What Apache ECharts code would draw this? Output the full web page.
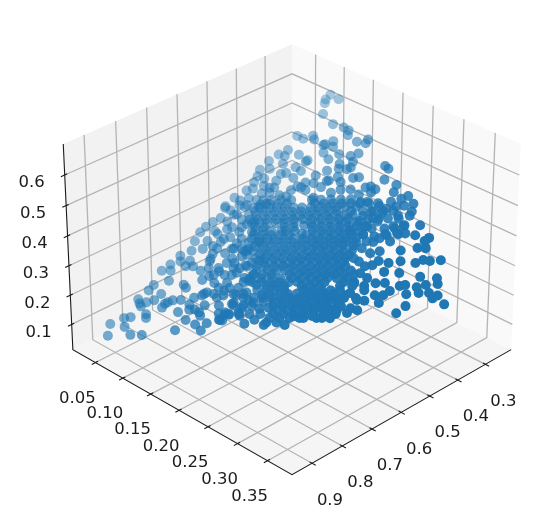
<!DOCTYPE html>
<html><head><meta charset="utf-8">
<style>html,body{margin:0;padding:0;background:#fff}#c{width:542px;height:523px}</style>
<script src="https://cdn.jsdelivr.net/npm/echarts@6/dist/echarts.min.js"></script>
</head><body><div id="c"></div>
<script>
// Tick labels of the three axes
const xTicks = ['0.3','0.4','0.5','0.6','0.7','0.8','0.9'];
const yTicks = ['0.05','0.10','0.15','0.20','0.25','0.30','0.35'];
const zTicks = ['0.1','0.2','0.3','0.4','0.5','0.6'];
const xLimits = [0.205, 0.965], yLimits = [0.008, 0.39], zLimits = [0.0125, 0.70];
// Samples, each as [y, x, z]
const upperCloud = [
[.117,.288,.658],[.130,.286,.653],[.115,.301,.646],[.117,.308,.638],[.124,.328,.617],[.143,.332,.602],[.158,.325,.601],[.166,.324,.598],[.169,.333,.589],[.130,.375,.571],
[.112,.394,.563],[.134,.379,.564],[.121,.391,.560],[.157,.359,.570],[.184,.332,.580],[.195,.316,.590],[.195,.324,.581],[.149,.377,.558],[.161,.368,.559],[.150,.373,.560],
[.155,.389,.543],[.195,.349,.559],[.188,.362,.550],[.174,.373,.548],[.113,.428,.532],[.106,.446,.519],[.114,.441,.519],[.129,.422,.528],[.100,.468,.502],[.143,.420,.521],
[.142,.424,.518],[.118,.455,.503],[.166,.394,.534],[.182,.388,.530],[.195,.368,.540],[.135,.445,.502],[.144,.445,.498],[.197,.380,.528],[.194,.387,.523],[.173,.413,.511],
[.234,.337,.547],[.240,.338,.544],[.107,.479,.487],[.097,.493,.481],[.099,.505,.467],[.124,.474,.483],[.141,.465,.481],[.109,.502,.466],[.100,.519,.454],[.122,.509,.451],
[.104,.531,.442],[.127,.503,.454],[.118,.528,.437],[.090,.567,.415],[.087,.592,.395],[.099,.565,.413],[.107,.551,.422],[.131,.538,.420],[.148,.503,.442],[.157,.470,.467],
[.158,.457,.478],[.179,.446,.477],[.179,.472,.454],[.183,.427,.494],[.185,.397,.521],[.190,.410,.505],[.214,.386,.514],[.208,.394,.510],[.197,.415,.496],[.181,.430,.491],
[.168,.449,.481],[.152,.473,.467],[.164,.469,.464],[.195,.444,.472]];
const rightCloud = [
[.244,.360,.522],[.261,.354,.517],[.234,.386,.502],[.229,.394,.498],[.241,.385,.499],[.264,.369,.503],[.282,.357,.502],[.239,.396,.492],[.294,.364,.491],[.277,.370,.494],
[.268,.387,.484],[.285,.377,.482],[.258,.407,.470],[.242,.415,.472],[.235,.423,.469],[.248,.442,.444],[.254,.426,.456],[.299,.387,.467],[.286,.400,.461],[.277,.416,.451],
[.268,.433,.441],[.298,.378,.476],[.292,.424,.436],[.300,.407,.446],[.281,.436,.431],[.317,.389,.454],[.319,.410,.433],[.256,.471,.414],[.246,.478,.411],[.276,.460,.412],
[.336,.398,.435],[.334,.409,.428],[.271,.477,.399],[.297,.450,.411],[.260,.499,.385],[.331,.427,.411],[.340,.418,.415],[.315,.451,.399],[.293,.477,.388],[.365,.419,.400],
[.354,.433,.394],[.346,.439,.392],[.340,.453,.383],[.323,.468,.380],[.311,.484,.370],[.299,.493,.369],[.295,.506,.358],[.288,.517,.353],[.278,.517,.359],[.313,.503,.352],
[.330,.487,.357],[.276,.540,.338],[.355,.468,.360],[.374,.451,.366],[.379,.459,.356],[.367,.474,.348],[.359,.488,.340],[.345,.498,.338],[.340,.506,.334],[.322,.519,.332],
[.312,.530,.327],[.302,.548,.317],[.365,.494,.330],[.376,.482,.335],[.387,.476,.335],[.384,.487,.328],[.353,.511,.322],[.333,.525,.320],[.329,.539,.309],[.320,.549,.305],
[.292,.575,.297],[.288,.584,.290],[.313,.570,.290],[.304,.577,.287],[.330,.556,.293],[.376,.427,.269],[.361,.530,.301],[.356,.551,.283],[.304,.598,.270],[.303,.608,.259],
[.285,.605,.272],[.280,.646,.238],[.268,.655,.237],[.260,.668,.229],[.249,.677,.228]];
const leftCloud = [
[.057,.934,.096],[.050,.913,.118],[.069,.900,.121],[.061,.887,.136],[.068,.878,.142],[.082,.905,.110],[.095,.891,.116],[.128,.842,.141],[.083,.854,.155],[.086,.860,.148],
[.062,.841,.178],[.067,.846,.171],[.071,.849,.167],[.074,.836,.177],[.081,.823,.185],[.067,.815,.200],[.068,.800,.212],[.084,.805,.200],[.082,.775,.228],[.066,.769,.243],
[.076,.758,.248],[.071,.749,.259],[.075,.723,.280],[.080,.732,.270],[.090,.733,.264],[.102,.763,.228],[.107,.765,.224],[.124,.770,.210],[.111,.790,.199],[.102,.800,.194],
[.098,.809,.188],[.096,.815,.184],[.096,.825,.176],[.117,.811,.175],[.124,.786,.195],[.128,.794,.186],[.134,.787,.189],[.142,.769,.202],[.158,.752,.209],[.141,.786,.186],
[.145,.790,.181],[.132,.814,.165],[.146,.809,.162],[.158,.793,.170],[.157,.811,.154],[.169,.773,.183],[.173,.770,.183],[.170,.754,.199],[.176,.753,.197],[.185,.738,.206],
[.189,.742,.201],[.200,.748,.189],[.208,.730,.201],[.222,.726,.196],[.171,.733,.218],[.185,.727,.216],[.187,.708,.233],[.205,.707,.223],[.215,.695,.230],[.110,.721,.263],
[.098,.724,.267],[.090,.719,.276],[.084,.702,.295],[.080,.683,.314],[.079,.663,.334],[.081,.647,.347],[.085,.631,.359],[.091,.616,.371],[.088,.595,.392],[.096,.592,.390],
[.102,.573,.404],[.095,.685,.304],[.094,.667,.321],[.095,.643,.343],[.110,.653,.326],[.104,.668,.314],[.111,.644,.333],[.113,.696,.285],[.112,.691,.290],[.111,.667,.312],
[.124,.665,.307],[.136,.664,.301],[.142,.668,.294],[.156,.658,.295],[.165,.679,.272],[.131,.699,.271],[.128,.711,.261],[.124,.719,.258],[.119,.733,.246],[.140,.698,.267],
[.148,.689,.270],[.152,.680,.277],[.144,.725,.241],[.152,.723,.238],[.156,.712,.246],[.166,.701,.251],[.172,.678,.269],[.172,.663,.281],[.183,.674,.265],[.197,.683,.249],
[.147,.629,.328],[.146,.635,.322],[.128,.649,.319],[.123,.615,.354],[.111,.616,.359],[.107,.625,.353],[.116,.592,.378],[.120,.576,.391],[.132,.581,.380],[.137,.599,.360],
[.153,.606,.346],[.125,.552,.410],[.109,.569,.403],[.172,.729,.221],[.170,.772,.183],[.171,.758,.195],[.245,.701,.207],[.234,.707,.207],[.223,.719,.202]];
const coreCloud = [
[.117,.544,.422],[.125,.536,.425],[.134,.526,.429],[.145,.514,.434],[.156,.502,.439],[.179,.477,.449],[.189,.466,.454],[.200,.454,.459],[.211,.442,.464],[.222,.430,.469],
[.120,.560,.406],[.128,.552,.409],[.138,.541,.414],[.146,.531,.418],[.155,.522,.422],[.165,.511,.426],[.174,.501,.430],[.184,.490,.435],[.193,.481,.439],[.202,.470,.443],[.212,.459,.448],[.222,.448,.452],[.233,.436,.457],
[.129,.568,.392],[.138,.559,.396],[.148,.548,.401],[.158,.537,.405],[.168,.526,.410],[.178,.516,.414],[.187,.506,.418],[.196,.495,.423],[.206,.484,.427],[.216,.474,.432],[.226,.463,.436],[.236,.452,.441],
[.130,.586,.376],[.139,.577,.380],[.147,.567,.384],[.157,.556,.388],[.167,.546,.393],[.177,.535,.397],[.196,.514,.406],[.206,.504,.410],[.216,.493,.415],[.226,.482,.419],[.235,.471,.424],[.246,.459,.429],
[.140,.594,.363],[.149,.584,.367],[.158,.574,.371],[.174,.556,.378],[.184,.546,.383],[.204,.524,.392],[.214,.513,.396],[.224,.502,.401],[.234,.492,.405],[.244,.481,.410],
[.142,.610,.347],[.151,.601,.351],[.159,.591,.355],[.168,.582,.359],[.178,.571,.363],[.188,.560,.368],[.198,.549,.372],[.208,.538,.377],[.218,.528,.381],[.228,.517,.386],[.238,.506,.390],[.247,.495,.395],
[.152,.618,.335],[.161,.608,.339],[.170,.598,.343],[.180,.588,.347],[.190,.577,.352],[.199,.566,.356],[.209,.555,.361],[.219,.544,.365],[.229,.534,.370],[.239,.523,.374],[.249,.512,.379],
[.149,.640,.315],[.164,.625,.322],[.172,.615,.326],[.182,.604,.330],[.192,.594,.335],[.202,.583,.339],[.212,.572,.344],[.222,.561,.348],[.232,.550,.353],[.242,.540,.357],[.252,.529,.362],[.262,.518,.366],
[.161,.646,.304],[.174,.632,.310],[.183,.622,.314],[.193,.612,.318],[.203,.601,.323],[.212,.590,.327],[.222,.579,.332],[.232,.568,.336],[.242,.558,.341],[.252,.547,.345],[.262,.536,.350],
[.172,.652,.292],[.184,.639,.297],[.194,.628,.301],[.204,.618,.306],[.214,.607,.310],[.224,.596,.315],[.234,.585,.319],[.244,.574,.324],[.254,.564,.328],[.264,.553,.333],
[.171,.673,.274],[.184,.658,.280],[.195,.646,.285],[.205,.636,.289],[.217,.622,.295],[.227,.612,.299],[.237,.601,.304],[.247,.590,.308],[.256,.579,.313],[.266,.568,.317],[.277,.556,.322],
[.195,.664,.268],[.205,.654,.273],[.215,.643,.277],[.234,.622,.286],[.244,.612,.290],[.254,.601,.295],[.276,.577,.305],[.289,.562,.311],
[.205,.673,.255],[.216,.661,.260],[.225,.650,.264],[.235,.639,.269],[.245,.628,.273],[.255,.618,.278],[.265,.607,.282],[.275,.596,.287],
[.204,.692,.238],[.215,.680,.243],[.225,.669,.247],[.235,.658,.252],[.245,.648,.256],[.255,.637,.261],[.265,.626,.265],[.274,.615,.270],
[.225,.687,.230],[.235,.676,.234],[.245,.666,.239],[.255,.655,.243],[.265,.644,.248],[.275,.633,.252],[.285,.622,.257],
[.223,.709,.212],[.234,.697,.217],[.245,.685,.222],[.256,.673,.227],[.274,.652,.235],[.289,.637,.242]];
const denseCloud = [
[.125,.546,.416],[.135,.535,.421],[.144,.524,.425],[.154,.513,.430],[.185,.480,.444],[.195,.469,.448],[.205,.458,.453],[.215,.447,.457],[.225,.436,.462],[.235,.426,.466],[.245,.415,.471],[.255,.404,.475],
[.125,.564,.399],[.136,.552,.404],[.146,.541,.408],[.156,.530,.413],[.166,.519,.417],[.176,.508,.422],[.186,.498,.426],[.196,.487,.431],[.206,.476,.435],[.215,.465,.440],[.244,.434,.453],[.255,.422,.458],[.266,.410,.463],[.277,.398,.468],
[.125,.583,.382],[.134,.572,.386],[.144,.561,.391],[.154,.550,.395],[.164,.540,.400],[.174,.529,.404],[.184,.518,.409],[.194,.507,.413],[.204,.496,.418],[.214,.486,.422],[.224,.475,.427],[.234,.464,.431],[.256,.440,.441],[.267,.428,.446],[.289,.404,.456],
[.137,.588,.371],[.147,.577,.375],[.170,.552,.386],[.180,.541,.390],[.200,.519,.399],[.210,.508,.404],[.220,.498,.408],[.230,.487,.413],[.240,.476,.417],[.249,.465,.422],[.258,.456,.426],[.289,.422,.440],[.300,.410,.445],
[.141,.602,.355],[.151,.591,.359],[.161,.580,.364],[.171,.570,.368],[.181,.559,.373],[.200,.537,.382],[.210,.526,.386],[.220,.516,.391],[.230,.505,.395],[.240,.494,.400],[.250,.483,.404],[.262,.470,.410],[.286,.444,.421],[.300,.428,.427],
[.142,.620,.338],[.151,.609,.343],[.161,.598,.347],[.171,.588,.352],[.181,.577,.356],[.191,.566,.361],[.201,.555,.365],[.211,.544,.370],[.221,.534,.374],[.231,.523,.379],[.241,.512,.383],[.250,.501,.388],[.260,.490,.392],[.279,.470,.401],
[.143,.638,.321],[.153,.627,.325],[.163,.616,.330],[.173,.606,.334],[.183,.595,.339],[.192,.584,.343],[.202,.573,.348],[.212,.562,.352],[.222,.552,.357],[.232,.541,.361],[.242,.530,.366],[.252,.519,.370],[.262,.508,.375],
[.162,.636,.313],[.172,.625,.317],[.182,.614,.322],[.192,.603,.326],[.202,.592,.331],[.212,.582,.335],[.222,.571,.340],[.232,.560,.344],[.241,.549,.349],[.251,.538,.353],[.261,.528,.358],[.270,.518,.362],
[.159,.657,.295],[.169,.646,.299],[.179,.636,.304],[.189,.625,.308],[.199,.614,.313],[.209,.603,.317],[.219,.592,.322],[.229,.582,.326],[.239,.571,.331],[.248,.560,.335],[.258,.549,.340],[.267,.540,.344],
[.172,.662,.283],[.182,.651,.287],[.192,.640,.292],[.212,.619,.301],[.222,.608,.305],[.231,.597,.310],[.241,.586,.314],[.251,.576,.319],[.261,.565,.323],[.271,.554,.328],[.282,.542,.333],
[.167,.686,.264],[.177,.675,.268],[.187,.664,.273],[.197,.654,.277],[.207,.643,.282],[.217,.632,.286],[.226,.621,.291],[.236,.610,.295],[.246,.600,.300],[.256,.589,.304],[.277,.566,.314],[.288,.554,.319],
[.188,.681,.256],[.198,.670,.260],[.208,.660,.265],[.218,.649,.270],[.239,.626,.279],[.249,.615,.283],[.259,.604,.288],[.269,.594,.292],[.279,.583,.297],[.305,.554,.309],
[.179,.710,.235],[.190,.698,.240],[.200,.687,.244],[.210,.676,.249],[.220,.666,.253],[.230,.655,.258],[.240,.644,.262],[.249,.633,.267],[.259,.622,.271],[.269,.612,.276],[.279,.601,.280],[.289,.590,.285],[.302,.576,.291],
[.174,.734,.216],[.185,.722,.221],[.194,.712,.225],[.218,.686,.236],[.228,.675,.240],[.238,.664,.245],[.248,.654,.249],[.258,.643,.254],[.268,.632,.258],[.277,.621,.263],[.292,.606,.269],
[.164,.764,.194],[.175,.752,.198],[.186,.740,.203],[.198,.727,.209],[.210,.714,.214],[.224,.698,.221],[.235,.686,.226],[.246,.674,.231],[.257,.662,.236],[.268,.650,.241],[.279,.638,.246],[.292,.624,.252],
[.132,.752,.222],[.143,.740,.227],[.165,.716,.237],[.176,.704,.242],[.117,.707,.272],[.128,.695,.277],[.145,.677,.284],[.130,.647,.320],[.139,.637,.324]];
const bandCloud = [
[.110,.563,.408],[.106,.590,.385],[.101,.613,.367],[.122,.604,.364],[.100,.644,.339],[.117,.634,.340],[.129,.635,.331],[.145,.649,.310],[.133,.677,.290],[.110,.680,.300],
[.152,.670,.287],[.149,.707,.254],[.135,.723,.247],[.134,.746,.226],[.149,.742,.222],[.169,.715,.236],[.178,.698,.246],[.194,.705,.231],[.155,.731,.229],[.131,.757,.218],
[.131,.622,.342],[.103,.594,.383],[.125,.593,.372],[.126,.517,.442],[.139,.509,.442],[.148,.487,.457],[.124,.490,.468],[.129,.466,.487],[.114,.513,.452],[.098,.541,.435],
[.164,.434,.496],[.203,.427,.482],[.214,.415,.487],[.227,.413,.482],[.231,.448,.447],[.248,.454,.433],[.260,.453,.427],[.261,.434,.444],[.266,.416,.457],[.268,.403,.468],
[.277,.388,.477],[.257,.484,.399],[.262,.470,.410],[.267,.451,.425],[.283,.457,.411],[.288,.443,.419],[.298,.428,.428],[.307,.419,.432],[.271,.493,.384],[.284,.491,.379],
[.288,.533,.338],[.299,.532,.332],[.289,.555,.317],[.312,.592,.269],[.290,.616,.259],[.190,.526,.398],[.194,.542,.381],[.169,.562,.376],[.168,.634,.311],[.287,.592,.284]];

// Camera of the 3D view (elevation 30, azimuth 45, distance 10, box 4:4:3)
const W = 1.1428, H = 0.857, DIST = 10;
const el = 30 * Math.PI / 180, az = 45 * Math.PI / 180;
const N = [Math.cos(el)*Math.cos(az), Math.cos(el)*Math.sin(az), Math.sin(el)];
const R = [-Math.sin(az), Math.cos(az), 0];
const U = [-Math.sin(el)*Math.cos(az), -Math.sin(el)*Math.sin(az), Math.cos(el)];
const dot = (p, q) => p[0]*q[0] + p[1]*q[1] + p[2]*q[2];
function project(x, y, z) {
  const Q = [((x-xLimits[0])/(xLimits[1]-xLimits[0])-.5)*W,
             ((y-yLimits[0])/(yLimits[1]-yLimits[0])-.5)*W,
             ((z-zLimits[0])/(zLimits[1]-zLimits[0])-.5)*H];
  const d = dot(Q, N), w = DIST - d;
  return [dot(Q, R)/w, dot(Q, U)/w, d];
}
const xa = xLimits[0], xb = xLimits[1], ya = yLimits[0], yb = yLimits[1], za = zLimits[0], zb = zLimits[1];
const SCALE = 2770, CX = 292, CY = 249;

// Panes
const panes = [
  {c:'#f2f2f2', p:[[xb,ya,za],[xa,ya,za],[xa,ya,zb],[xb,ya,zb]]},
  {c:'#f9f9f9', p:[[xa,ya,za],[xa,yb,za],[xa,yb,zb],[xa,ya,zb]]},
  {c:'#f5f5f5', p:[[xa,ya,za],[xb,ya,za],[xb,yb,za],[xa,yb,za]]}
];
// Grid lines, spines, tick marks
const gridLines = [], axisLines = [], labels = [];
xTicks.forEach(t => { const v = +t;
  gridLines.push([[v,yb,za],[v,ya,za],[v,ya,zb]]);
  axisLines.push([[v,yb-.004,za],[v,yb+.006,za]]);
  labels.push({text:t, at:[v,yb,za], dx:18, dy:37});
});
yTicks.forEach(t => { const v = +t;
  gridLines.push([[xb,v,za],[xa,v,za],[xa,v,zb]]);
  axisLines.push([[xb-.008,v,za],[xb+.012,v,za]]);
  labels.push({text:t, at:[xb,v,za], dx:-18, dy:36});
});
zTicks.forEach(t => { const v = +t;
  gridLines.push([[xb,ya,v],[xa,ya,v],[xa,yb,v]]);
  axisLines.push([[xb-.008,ya,v],[xb+.012,ya,v]]);
  labels.push({text:t, at:[xb,ya,v], dx:-33, dy:8});
});
axisLines.push([[xb,ya,zb],[xb,ya,za],[xb,yb,za],[xa,yb,za]]);

function polySeries(items, z, build) {
  return {type:'custom', coordinateSystem:'cartesian2d', silent:true, z, clip:false,
    data: items.map((_, i) => [i, 0]), encode:{x:0,y:1},
    renderItem(params, api) { return build(items[params.dataIndex], api); }};
}
const toPx = (api, p) => { const q = project(p[0], p[1], p[2]); return api.coord([q[0], q[1]]); };

const all = [...upperCloud, ...rightCloud, ...leftCloud, ...coreCloud, ...denseCloud, ...bandCloud];
const pts = all.map(s => project(s[1], s[0], s[2]));
const ds = pts.map(p => p[2]);
const dMin = Math.min(...ds), dMax = Math.max(...ds);
const scatterData = pts.slice().sort((a, b) => a[2]-b[2]).map(p => ({
  value:[p[0], p[1]],
  itemStyle:{opacity: 0.38 + 0.62*Math.min(1, 1.3*(p[2]-dMin)/(dMax-dMin))}
}));

const chart = echarts.init(document.getElementById('c'), null, {renderer:'canvas'});
chart.setOption({
  animation:false, backgroundColor:'#fff',
  grid:{left:0,right:0,top:0,bottom:0},
  xAxis:{type:'value', show:false, min:-CX/SCALE, max:(542-CX)/SCALE},
  yAxis:{type:'value', show:false, min:(CY-523)/SCALE, max:CY/SCALE},
  series:[
    polySeries(panes, 1, (o, api) => ({type:'polygon', shape:{points:o.p.map(p => toPx(api,p))}, style:{fill:o.c}})),
    polySeries(gridLines, 2, (l, api) => ({type:'polyline', shape:{points:l.map(p => toPx(api,p))}, style:{stroke:'#b4b4b4', lineWidth:1.3, fill:null}})),
    polySeries(axisLines, 3, (l, api) => ({type:'polyline', shape:{points:l.map(p => toPx(api,p))}, style:{stroke:'#1a1a1a', lineWidth:1.1, fill:null}})),
    polySeries(labels, 4, (o, api) => { const c = toPx(api, o.at);
      return {type:'text', style:{text:o.text, x:c[0]+o.dx, y:c[1]+o.dy, align:'center', verticalAlign:'middle',
        fill:'#1c1c1c', font:'16.5px "DejaVu Sans"'}}; }),
    {type:'scatter', z:5, silent:true, symbol:'circle', symbolSize:10, itemStyle:{color:'#1f77b4'}, data:scatterData, clip:false}
  ]
});
</script></body></html>
